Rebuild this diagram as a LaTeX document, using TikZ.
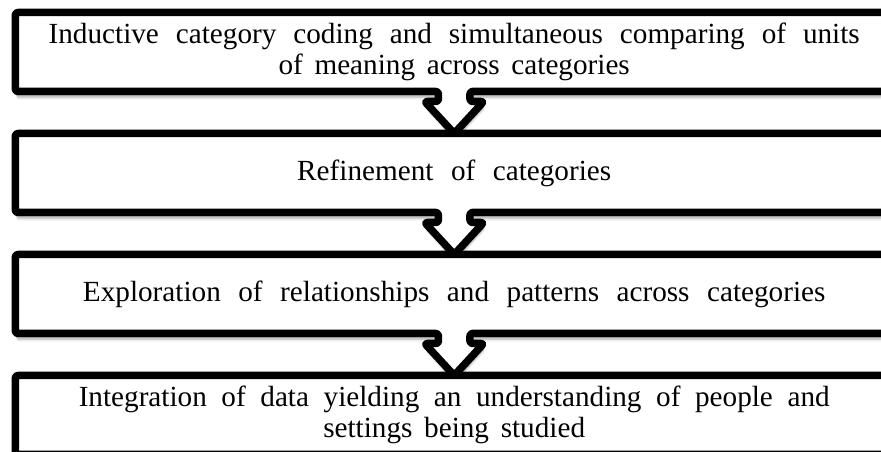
\documentclass[tikz,border=0pt]{standalone}
\usepackage{fontspec}
\setmainfont{Liberation Serif}
\usetikzlibrary{calc}
\pgfdeclarelayer{background}
\pgfsetlayers{background,main}
\newcommand\wsp[1]{\spaceskip=#1em plus 0.05em\relax}
\definecolor{shadeA}{gray}{0.92}
\definecolor{shadeB}{gray}{0.82}
\definecolor{shadeC}{gray}{0.70}
\tikzset{
  stepbox/.style={draw=none, fill=none, minimum width=877.7pt, minimum height=79pt,
    inner sep=0pt, outer sep=0pt, align=center, font=\fontsize{29.2}{31.5}\selectfont},
  boxline/.style={draw=black, fill=white, line width=7.5pt, line join=round, rounded corners=2.5pt}
}
% shadow of a box (node #1) at vertical offset #2 in colour #3
\newcommand\boxshadow[3]{%
  \fill[#3, rounded corners=2.5pt] ($(#1.south west)+(1,-#2)$) rectangle ($(#1.north east)+(1,-#2)$);}
% shadow of the arrow head from node #1 to node #2
\newcommand\headshadow[4]{%
  \fill[#4] ($(#1.south)+(-28.5,-10-#3)$) -- ($(#2.north)+(1,-#3)$) -- ($(#1.south)+(30.5,-10-#3)$) -- cycle;}
% box #1 merged with the block arrow that points to box #2
\newcommand\boxarrow[2]{%
  \draw[boxline] ($(#1.south)+(15.75,0)$) -- (#1.south east) -- (#1.north east) -- (#1.north west)
    -- (#1.south west) -- ($(#1.south)+(-15.75,0)$) -- ($(#1.south)+(-15.75,-10)$)
    -- ($(#1.south)+(-29.5,-10)$) -- (#2.north) -- ($(#1.south)+(29.5,-10)$)
    -- ($(#1.south)+(15.75,-10)$) -- cycle;}
\begin{document}
\begin{tikzpicture}[x=1pt,y=1pt]
\useasboundingbox (0,0) rectangle (881,452);
\clip (0,0) rectangle (881,452);
\node[stepbox] (b1) at (454.2,400) {\wsp{0.58}Inductive category coding and simultaneous comparing of units\\\wsp{0.4}of meaning across categories};
\node[stepbox] (b2) at (454.2,279) {\wsp{0.6}Refinement of categories};
\node[stepbox] (b3) at (454.2,158) {\wsp{0.6}Exploration of relationships and patterns across categories};
\node[stepbox] (b4) at (454.2,37) {\wsp{0.5}Integration of data yielding an understanding of people and\\\wsp{0.4}settings being studied};
\begin{pgfonlayer}{background}
  \fill[white] (0,0) rectangle (881,452);
  \foreach \b in {b1,b2,b3,b4}{
    \boxshadow{\b}{8}{shadeA}
    \boxshadow{\b}{6.5}{shadeB}
    \boxshadow{\b}{5}{shadeC}
  }
  \foreach \a/\c in {b1/b2,b2/b3,b3/b4}{
    \headshadow{\a}{\c}{8}{shadeA}
    \headshadow{\a}{\c}{6.5}{shadeB}
    \headshadow{\a}{\c}{5}{shadeC}
  }
  \draw[boxline] (b4.south west) rectangle (b4.north east);
  \boxarrow{b3}{b4}
  \boxarrow{b2}{b3}
  \boxarrow{b1}{b2}
\end{pgfonlayer}
\end{tikzpicture}
\end{document}
